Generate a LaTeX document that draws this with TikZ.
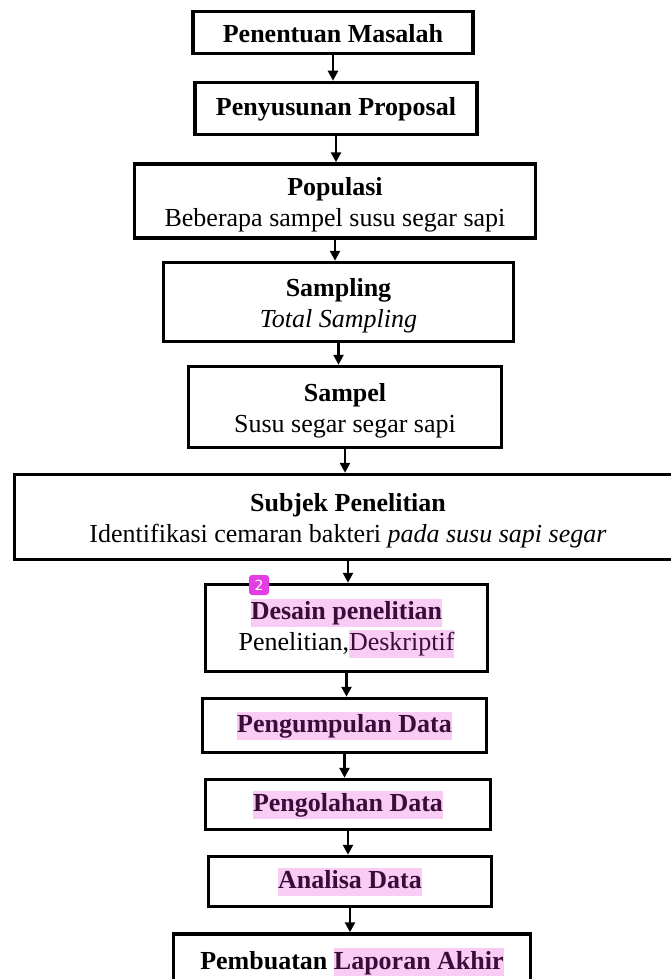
\documentclass[tikz,border=0pt]{standalone}
\usepackage{fontspec}
\setmainfont{Liberation Serif}
\newfontfamily\markfont{DejaVu Sans}
\usetikzlibrary{arrows.meta}
\definecolor{hlpink}{RGB}{249,204,245}
\definecolor{hltext}{RGB}{58,12,58}
\definecolor{markpink}{RGB}{226,62,226}
\newcommand{\bstrut}{\vrule height 21pt depth 7pt width 0pt}
\newcommand{\tallstrut}{\vrule height 27pt width 0pt}
\newcommand{\hlt}[1]{{\setlength{\fboxsep}{0pt}\colorbox{hlpink}{\color{hltext}\bstrut #1}}}

\begin{document}
\begin{tikzpicture}[
		x = 1pt, y = -1pt, % pixel units, y going down
		> = {Triangle[length=10pt,width=10pt]}, % arrow head style
		box/.style = {draw, line width=3.5pt, inner sep=0pt, align=center,
			font=\fontsize{26}{31}\selectfont},
		arr/.style = {->, line width=2.5pt}
		]
		\useasboundingbox (0,0) rectangle (671,979);
		\clip (0,0) rectangle (671,979);
		
		\node[box, minimum width=280pt, minimum height=42pt] (masalah) at (333,32.5) {\tallstrut\textbf{Penentuan Masalah}\bstrut};
		\node[box, minimum width=282pt, minimum height=52pt] (proposal) at (336,108.5) {\bstrut\textbf{Penyusunan Proposal}};
		\node[box, minimum width=401pt, minimum height=74pt] (populasi) at (335,201) {\tallstrut\textbf{Populasi}\\Beberapa sampel susu segar sapi\bstrut};
		\node[box, minimum width=350pt, minimum height=79pt] (sampling) at (338.5,302) {\tallstrut\textbf{Sampling}\\\textit{Total Sampling}\bstrut};
		\node[box, minimum width=313pt, minimum height=81pt] (sampel) at (345,407) {\tallstrut\textbf{Sampel}\\Susu segar segar sapi\bstrut};
		\node[box, minimum width=667pt, minimum height=85pt] (subjek) at (348,517) {\tallstrut\textbf{Subjek Penelitian}\\Identifikasi cemaran bakteri \textit{pada susu sapi segar}\bstrut};
		\node[box, minimum width=282pt, minimum height=87pt] (desain) at (346.5,628) {\textbf{\hlt{Desain penelitian}}\\Penelitian,\hlt{Deskriptif}};
		\node[box, minimum width=284pt, minimum height=54pt] (kumpul) at (344.5,725.5) {\textbf{\hlt{Pengumpulan Data}}};
		\node[box, minimum width=285pt, minimum height=50pt] (olah) at (348,804.5) {\textbf{\hlt{Pengolahan Data}}};
		\node[box, minimum width=283pt, minimum height=50pt] (analisa) at (350,881.5) {\textbf{\hlt{Analisa Data}}};
		\node[box, minimum width=357pt, minimum height=56pt] (laporan) at (352,962) {\textbf{Pembuatan \hlt{Laporan Akhir}}};
		
		\node[fill=markpink, rounded corners=3pt, inner sep=0pt, minimum width=20pt, minimum height=20pt,
			text=white, font=\markfont\fontsize{14}{14}\selectfont] (catatan) at (259,585) {2};
		
		\draw[arr] (masalah.south) -- (masalah.south |- proposal.north);
		\draw[arr] (proposal.south) -- (proposal.south |- populasi.north);
		\draw[arr] (populasi.south) -- (populasi.south |- sampling.north);
		\draw[arr] (sampling.south) -- (sampling.south |- sampel.north);
		\draw[arr] (sampel.south) -- (sampel.south |- subjek.north);
		\draw[arr] (subjek.south) -- (subjek.south |- desain.north);
		\draw[arr] (desain.south) -- (desain.south |- kumpul.north);
		\draw[arr] (kumpul.south) -- (kumpul.south |- olah.north);
		\draw[arr] (olah.south) -- (olah.south |- analisa.north);
		\draw[arr] (analisa.south) -- (analisa.south |- laporan.north);
		
	\end{tikzpicture}
\end{document}
